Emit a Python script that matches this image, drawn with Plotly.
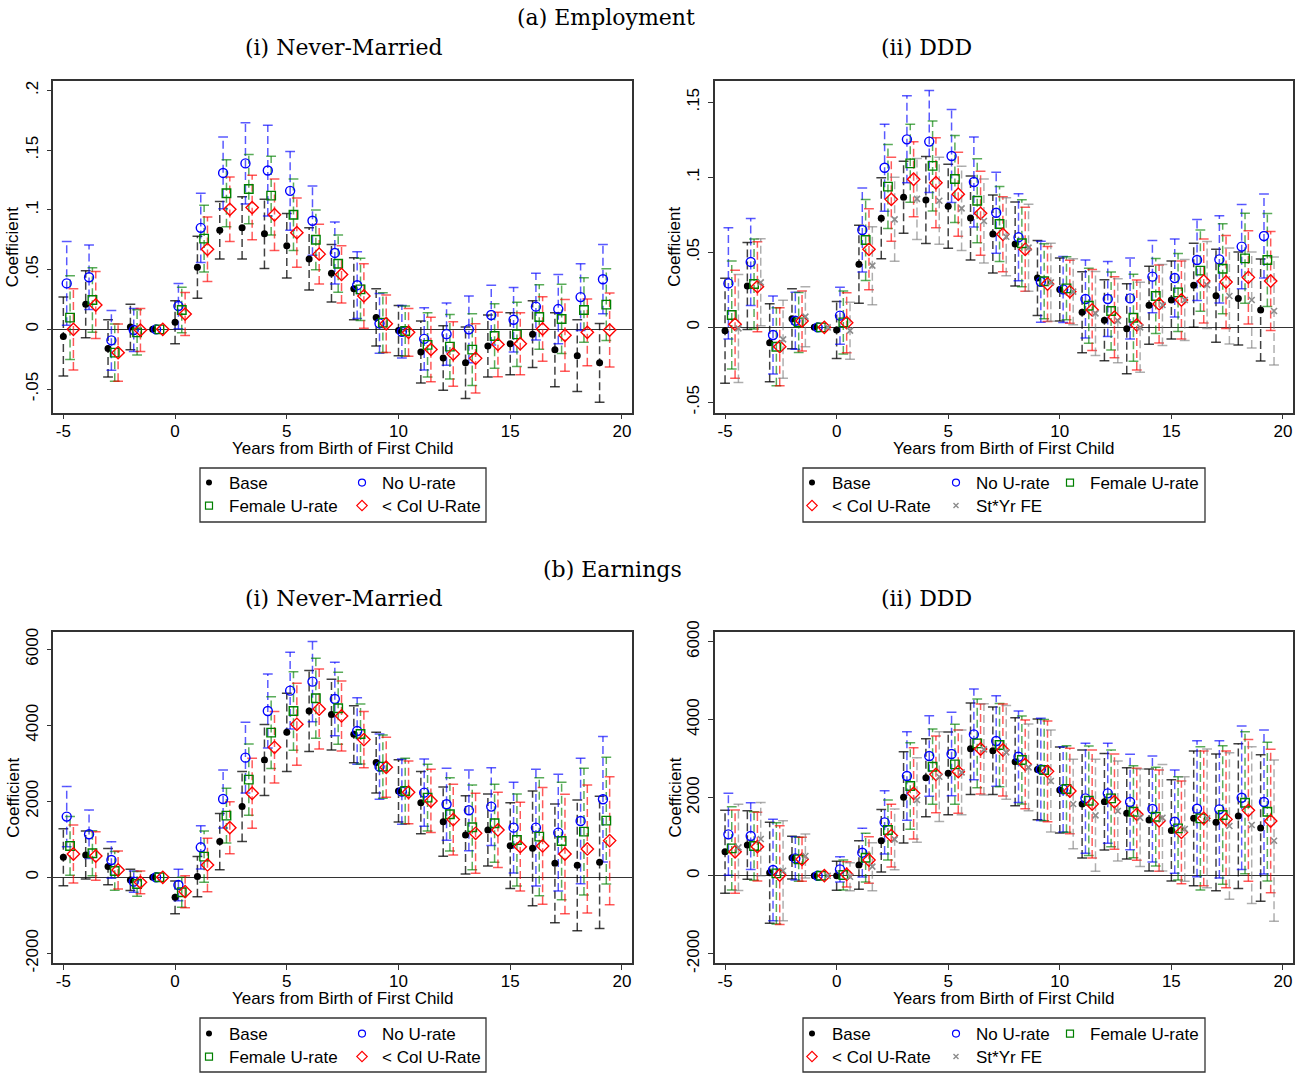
import plotly.graph_objects as go

# ---------------- data ----------------
event_time = list(range(-5, 20))

# (a) Employment, (i) Never-Married : point estimates and 95% CI half-widths
emp_nm_base = [-0.006, 0.021, -0.016, 0.002, 0, 0.006, 0.052, 0.083, 0.085, 0.080, 0.070, 0.059, 0.047,
               0.034, 0.010, -0.001, -0.019, -0.024, -0.028, -0.014, -0.012, -0.004, -0.017, -0.022, -0.028]
emp_nm_base_hw = [0.033, 0.028, 0.024, 0.019, 0, 0.018, 0.026, 0.024, 0.026, 0.029, 0.027, 0.026, 0.024,
                  0.026, 0.024, 0.021, 0.026, 0.027, 0.030, 0.026, 0.026, 0.028, 0.031, 0.030, 0.033]
emp_nm_nou = [0.0385, 0.0436, -0.0092, -0.0006, 0, 0.0195, 0.085, 0.131, 0.139, 0.133, 0.116, 0.091, 0.064,
              0.037, 0.005, -0.002, -0.008, -0.004, 0.000, 0.012, 0.008, 0.019, 0.017, 0.027, 0.042]
emp_nm_nou_hw = [0.035, 0.027, 0.025, 0.018, 0, 0.019, 0.029, 0.030, 0.034, 0.038, 0.033, 0.029, 0.026,
                 0.028, 0.025, 0.022, 0.026, 0.026, 0.028, 0.025, 0.027, 0.028, 0.029, 0.028, 0.029]
emp_nm_fem = [0.0098, 0.0246, -0.0195, -0.0025, 0, 0.0162, 0.076, 0.114, 0.1175, 0.112, 0.096, 0.075, 0.055,
              0.0335, 0.0056, -0.0014, -0.013, -0.0145, -0.017, -0.0056, -0.0042, 0.0103, 0.0087, 0.0162, 0.0207]
emp_nm_fem_hw = [0.035, 0.027, 0.024, 0.019, 0, 0.019, 0.028, 0.028, 0.029, 0.033, 0.030, 0.025, 0.024,
                 0.026, 0.025, 0.021, 0.027, 0.027, 0.030, 0.027, 0.027, 0.027, 0.029, 0.027, 0.030]
emp_nm_col = [0.000, 0.0204, -0.0195, -0.0006, 0, 0.0128, 0.067, 0.1005, 0.102, 0.096, 0.081, 0.063, 0.046,
              0.028, 0.0047, -0.0025, -0.0168, -0.0207, -0.0243, -0.0126, -0.012, 0.0003, -0.005, -0.0025, -0.0006]
emp_nm_col_hw = [0.034, 0.028, 0.024, 0.018, 0, 0.018, 0.027, 0.027, 0.027, 0.030, 0.029, 0.025, 0.024,
                 0.027, 0.024, 0.020, 0.027, 0.027, 0.029, 0.027, 0.026, 0.027, 0.030, 0.028, 0.031]

# (a) Employment, (ii) DDD
emp_ddd_base = [-0.0022, 0.0276, -0.0102, 0.0058, 0, -0.0018, 0.042, 0.0727, 0.0867, 0.0849, 0.0807, 0.0729, 0.0622,
                0.0556, 0.0329, 0.0253, 0.010, 0.0047, -0.0009, 0.0147, 0.0182, 0.028, 0.0211, 0.0193, 0.0116]
emp_ddd_base_hw = [0.035, 0.029, 0.026, 0.020, 0, 0.019, 0.026, 0.027, 0.024, 0.029, 0.028, 0.028, 0.026,
                   0.028, 0.025, 0.021, 0.027, 0.027, 0.030, 0.026, 0.026, 0.028, 0.031, 0.031, 0.034]
emp_ddd_nou = [0.0293, 0.0436, -0.0051, 0.0044, 0, 0.0078, 0.0649, 0.1064, 0.1253, 0.1238, 0.1142, 0.0969, 0.0764,
               0.060, 0.0304, 0.0253, 0.0189, 0.0189, 0.0193, 0.0338, 0.0329, 0.0449, 0.0453, 0.0538, 0.0609]
emp_ddd_nou_hw = [0.037, 0.029, 0.026, 0.019, 0, 0.019, 0.028, 0.029, 0.029, 0.034, 0.031, 0.030, 0.027,
                  0.029, 0.027, 0.022, 0.026, 0.025, 0.027, 0.024, 0.026, 0.027, 0.029, 0.028, 0.028]
emp_ddd_fem = [0.0082, 0.0289, -0.0129, 0.0033, 0, 0.0033, 0.0582, 0.0938, 0.1093, 0.1076, 0.0989, 0.0844, 0.0689,
               0.056, 0.0307, 0.026, 0.0144, 0.0109, 0.0064, 0.0209, 0.0233, 0.0378, 0.0391, 0.046, 0.0449]
emp_ddd_fem_hw = [0.036, 0.030, 0.026, 0.020, 0, 0.021, 0.027, 0.028, 0.026, 0.030, 0.029, 0.028, 0.025,
                  0.029, 0.025, 0.021, 0.025, 0.026, 0.029, 0.025, 0.026, 0.027, 0.030, 0.030, 0.031]
emp_ddd_col = [0.002, 0.0271, -0.0129, 0.0042, 0, 0.0031, 0.052, 0.0853, 0.0987, 0.0964, 0.0887, 0.076, 0.062,
               0.052, 0.0289, 0.0238, 0.0116, 0.0067, 0.0016, 0.0156, 0.0182, 0.0309, 0.0302, 0.0333, 0.0309]
emp_ddd_col_hw = [0.036, 0.030, 0.026, 0.020, 0, 0.020, 0.027, 0.028, 0.025, 0.030, 0.028, 0.028, 0.025,
                  0.028, 0.025, 0.021, 0.027, 0.027, 0.030, 0.026, 0.026, 0.028, 0.031, 0.031, 0.033]
emp_ddd_styr = [-0.0007, 0.030, -0.008, 0.0071, 0, -0.0022, 0.0411, 0.072, 0.0856, 0.0844, 0.0793, 0.0709, 0.0604,
                0.0531, 0.030, 0.0238, 0.0093, 0.0044, 0.000, 0.0149, 0.0182, 0.0282, 0.0209, 0.0182, 0.0109]
emp_ddd_styr_hw = [0.036, 0.029, 0.026, 0.020, 0, 0.019, 0.026, 0.028, 0.027, 0.029, 0.028, 0.028, 0.026,
                   0.029, 0.026, 0.022, 0.028, 0.028, 0.030, 0.027, 0.027, 0.029, 0.032, 0.032, 0.036]

# (b) Earnings, (i) Never-Married
ern_nm_base = [526, 588, 281, -70, 0, -526, 18, 939, 1860, 3088, 3816, 4377, 4281,
               3763, 3018, 2272, 1965, 1465, 1114, 1246, 833, 763, 368, 316, 395]
ern_nm_base_hw = [750, 630, 480, 280, 0, 430, 530, 737, 921, 934, 1030, 1066, 930,
                  750, 798, 820, 820, 912, 1030, 947, 1127, 1510, 1561, 1720, 1740]
ern_nm_nou = [1597, 1132, 456, -114, 0, -202, 789, 2061, 3149, 4377, 4912, 5149, 4693,
              3851, 2912, 2254, 2228, 1921, 1763, 1860, 1307, 1307, 1175, 1482, 2053]
ern_nm_nou_hw = [790, 640, 482, 280, 0, 412, 570, 763, 930, 974, 1009, 1053, 965,
                 877, 860, 860, 886, 947, 1061, 1026, 1193, 1535, 1535, 1649, 1649]
ern_nm_fem = [825, 632, 167, -175, 0, -395, 544, 1623, 2570, 3807, 4377, 4711, 4447,
              3772, 2912, 2272, 2096, 1658, 1316, 1421, 982, 1070, 956, 1202, 1491]
ern_nm_fem_hw = [772, 590, 510, 325, 0, 395, 675, 720, 939, 947, 1035, 1053, 947,
                 790, 833, 860, 877, 965, 1114, 1026, 1210, 1553, 1544, 1667, 1667]
ern_nm_col = [614, 561, 193, -132, 0, -377, 325, 1307, 2211, 3421, 4026, 4430, 4246,
              3623, 2895, 2237, 2009, 1518, 1158, 1246, 807, 825, 614, 746, 965]
ern_nm_col_hw = [763, 640, 500, 298, 0, 421, 702, 684, 921, 939, 1079, 1053, 921,
                 737, 790, 825, 833, 930, 1053, 991, 1167, 1535, 1570, 1684, 1684]

# (b) Earnings, (ii) DDD
ern_ddd_base = [615, 786, 77, 462, 0, 0, 274, 897, 2009, 2513, 2624, 3256, 3205,
                2923, 2726, 2197, 1838, 1897, 1598, 1427, 1162, 1470, 1368, 1530, 1222]
ern_ddd_base_hw = [1064, 880, 1295, 547, 0, 370, 620, 800, 1168, 1000, 1060, 1175, 1120,
                   1128, 1290, 1103, 1385, 1239, 1171, 1308, 1300, 1726, 1752, 1855, 1880]
ern_ddd_nou = [1060, 1017, 145, 444, 0, 162, 590, 1368, 2556, 3068, 3120, 3624, 3453,
               3051, 2726, 2214, 1983, 2111, 1889, 1709, 1385, 1718, 1701, 2000, 1889]
ern_ddd_nou_hw = [1051, 855, 1300, 556, 0, 325, 624, 812, 1137, 1034, 1068, 1162, 1162,
                  1171, 1308, 1094, 1410, 1282, 1222, 1359, 1325, 1744, 1761, 1838, 1846]
ern_ddd_fem = [701, 761, 60, 419, 0, 17, 462, 1171, 2299, 2795, 2855, 3393, 3350,
               2966, 2709, 2222, 1923, 1983, 1641, 1513, 1214, 1470, 1556, 1872, 1641]
ern_ddd_fem_hw = [1068, 880, 1300, 564, 0, 385, 624, 770, 1111, 966, 1026, 1137, 1068,
                  1128, 1299, 1111, 1402, 1239, 1179, 1265, 1325, 1838, 1778, 1820, 1778]
ern_ddd_col = [615, 744, 17, 419, 0, 34, 402, 1026, 2111, 2598, 2667, 3248, 3222,
               2855, 2675, 2171, 1838, 1897, 1573, 1410, 1111, 1470, 1444, 1675, 1402]
ern_ddd_col_hw = [1068, 880, 1265, 564, 0, 325, 598, 803, 1171, 983, 1068, 1154, 1180,
                  1137, 1290, 1094, 1385, 1222, 1179, 1299, 1316, 1726, 1752, 1820, 1838]
ern_ddd_styr = [726, 940, 128, 504, 0, -26, 231, 932, 1940, 2538, 2650, 3239, 3162,
                2778, 2427, 1838, 1547, 1658, 1487, 1487, 1197, 1470, 1274, 1299, 897]
ern_ddd_styr_hw = [1103, 940, 1282, 564, 0, 359, 615, 778, 1085, 1150, 1085, 1170, 1200,
                   1111, 1308, 1145, 1436, 1282, 1248, 1367, 1342, 1778, 1880, 2009, 2068]

x_tickvals = [-5, 0, 5, 10, 15, 20]
x_ticklabels = ["-5", "0", "5", "10", "15", "20"]
emp_nm_ticks = [-0.05, 0, 0.05, 0.1, 0.15, 0.2]
emp_nm_ticklabels = ["-.05", "0", ".05", ".1", ".15", ".2"]
emp_ddd_ticks = [-0.05, 0, 0.05, 0.1, 0.15]
emp_ddd_ticklabels = ["-.05", "0", ".05", ".1", ".15"]
ern_ticks = [-2000, 0, 2000, 4000, 6000]
ern_ticklabels = ["-2000", "0", "2000", "4000", "6000"]

series_names = {"base": "Base", "nou": "No U-rate", "fem": "Female U-rate",
                "col": "&lt; Col U-Rate", "styr": "St*Yr FE"}

# ---------------- styles ----------------
W, H = 1306, 1073
SANS = "Liberation Sans, Arial, sans-serif"
SERIF = "DejaVu Serif, serif"
FS = 17

STYLE = {
    "base": dict(color="#000000", symbol="circle", size=7, lsize=6, lw=0, offset=0.0, bar="rgba(0,0,0,0.75)"),
    "nou": dict(color="#0000ff", symbol="circle-open", size=9, lsize=7, lw=1.4, offset=0.15, bar="rgba(0,0,255,0.65)"),
    "fem": dict(color="#008000", symbol="square-open", size=8.5, lsize=7, lw=1.4, offset=0.30, bar="rgba(0,128,0,0.65)"),
    "col": dict(color="#ff0000", symbol="diamond-open", size=9.5, lsize=8, lw=1.4, offset=0.45, bar="rgba(255,0,0,0.65)"),
    "styr": dict(color="#8c8c8c", symbol="x-thin-open", size=6, lsize=5, lw=1.6, offset=0.60, bar="rgba(120,120,120,0.6)"),
}

panels = [
    dict(ax="", series=[("base", emp_nm_base, emp_nm_base_hw), ("nou", emp_nm_nou, emp_nm_nou_hw),
                        ("fem", emp_nm_fem, emp_nm_fem_hw), ("col", emp_nm_col, emp_nm_col_hw)],
         xdom=(53.3, 632), ydom=(81, 412.7), yrange=(-0.0698, 0.208),
         yt=emp_nm_ticks, ytl=emp_nm_ticklabels),
    dict(ax="2", series=[("base", emp_ddd_base, emp_ddd_base_hw), ("nou", emp_ddd_nou, emp_ddd_nou_hw),
                         ("fem", emp_ddd_fem, emp_ddd_fem_hw), ("col", emp_ddd_col, emp_ddd_col_hw),
                         ("styr", emp_ddd_styr, emp_ddd_styr_hw)],
         xdom=(715, 1293), ydom=(81, 412.7), yrange=(-0.0569, 0.1642),
         yt=emp_ddd_ticks, ytl=emp_ddd_ticklabels),
    dict(ax="3", series=[("base", ern_nm_base, ern_nm_base_hw), ("nou", ern_nm_nou, ern_nm_nou_hw),
                         ("fem", ern_nm_fem, ern_nm_fem_hw), ("col", ern_nm_col, ern_nm_col_hw)],
         xdom=(53.3, 632), ydom=(631.7, 963.3), yrange=(-2263, 6463),
         yt=ern_ticks, ytl=ern_ticklabels),
    dict(ax="4", series=[("base", ern_ddd_base, ern_ddd_base_hw), ("nou", ern_ddd_nou, ern_ddd_nou_hw),
                         ("fem", ern_ddd_fem, ern_ddd_fem_hw), ("col", ern_ddd_col, ern_ddd_col_hw),
                         ("styr", ern_ddd_styr, ern_ddd_styr_hw)],
         xdom=(715, 1293), ydom=(631.7, 963.3), yrange=(-2246, 6256),
         yt=ern_ticks, ytl=ern_ticklabels),
]

fig = go.Figure()

for p in panels:
    xa, ya = "x" + p["ax"], "y" + p["ax"]
    # confidence intervals (dashed rcap)
    for key, vals, hws in p["series"]:
        st = STYLE[key]
        bx, by, cx, cy = [], [], [], []
        for t, v, h in zip(event_time, vals, hws):
            if h <= 0:
                continue
            xt = t + st["offset"]
            bx += [xt, xt, None]
            by += [v - h, v + h, None]
            cx += [xt, xt]
            cy += [v - h, v + h]
        fig.add_trace(go.Scatter(x=bx, y=by, mode="lines", xaxis=xa, yaxis=ya, showlegend=False,
                                 hoverinfo="skip",
                                 line=dict(color=st["bar"], width=1.5, dash="8px,4px")))
        fig.add_trace(go.Scatter(x=cx, y=cy, mode="markers", xaxis=xa, yaxis=ya, showlegend=False,
                                 hoverinfo="skip",
                                 marker=dict(symbol="line-ew", size=7, color=st["bar"],
                                             line=dict(color=st["bar"], width=1.5))))
    # point estimates
    for key, vals, hws in p["series"]:
        st = STYLE[key]
        fig.add_trace(go.Scatter(x=[t + st["offset"] for t in event_time], y=vals, mode="markers",
                                 xaxis=xa, yaxis=ya, showlegend=False, name=series_names[key],
                                 marker=dict(symbol=st["symbol"], size=st["size"], color=st["color"],
                                             line=dict(color=st["color"], width=st["lw"]))))

# ---------------- legends (one per row / column group) ----------------
legend_groups = [
    # (legend id, panel axis, keys, x_px of first symbol, y_px, column spacing or None)
    ("legend", "", ["base", "nou"], 209, 483, 153),
    ("legend2", "", ["fem", "col"], 209, 506, 153),
    ("legend3", "2", ["base", "nou"], 812, 483, 144),
    ("legend4", "2", ["fem"], 1070, 483, None),
    ("legend5", "2", ["col", "styr"], 812, 506, 144),
    ("legend6", "3", ["base", "nou"], 209, 1034, 153),
    ("legend7", "3", ["fem", "col"], 209, 1057, 153),
    ("legend8", "4", ["base", "nou"], 812, 1034, 144),
    ("legend9", "4", ["fem"], 1070, 1034, None),
    ("legend10", "4", ["col", "styr"], 812, 1057, 144),
]
layout_legends = {}
for lid, ax, keys, xpx, ypx, ew in legend_groups:
    for key in keys:
        st = STYLE[key]
        fig.add_trace(go.Scatter(x=[None], y=[None], mode="markers", xaxis="x" + ax, yaxis="y" + ax,
                                 name=series_names[key], legend=lid, showlegend=True,
                                 marker=dict(symbol=st["symbol"], size=st["lsize"], color=st["color"],
                                             line=dict(color=st["color"], width=max(st["lw"] - 0.2, 0)))))
    lg = dict(orientation="h", x=(xpx - 20) / W, y=1 - ypx / H, xanchor="left",
              yanchor="middle", bgcolor="rgba(0,0,0,0)", borderwidth=0, itemwidth=30,
              font=dict(family=SANS, size=FS, color="#000000"), tracegroupgap=0,
              itemclick=False, itemdoubleclick=False)
    if ew is not None:
        lg.update(entrywidth=ew - 45, entrywidthmode="pixels")
    layout_legends[lid] = lg

# ---------------- axes ----------------
axis_common = dict(showgrid=False, ticks="outside", ticklen=5, tickwidth=1.3, tickcolor="#333333",
                   showline=True, linecolor="#333333", linewidth=1.5, mirror=True,
                   tickfont=dict(family=SANS, size=FS, color="#000000"))
layout_axes = {}
for p in panels:
    a = p["ax"]
    layout_axes["xaxis" + a] = dict(axis_common, domain=[p["xdom"][0] / W, p["xdom"][1] / W],
                                    range=[-5.45, 20.45], tickvals=x_tickvals, ticktext=x_ticklabels,
                                    zeroline=False, anchor="y" + a, ticklabelstandoff=-3)
    layout_axes["yaxis" + a] = dict(axis_common, domain=[1 - p["ydom"][1] / H, 1 - p["ydom"][0] / H],
                                    range=list(p["yrange"]), tickvals=p["yt"], ticktext=p["ytl"],
                                    tickangle=-90, zeroline=True, zerolinecolor="#333333", zerolinewidth=1.3,
                                    anchor="x" + a, ticklabelstandoff=2)

# ---------------- titles, axis titles and legend boxes ----------------
annotations = []
title_specs = [
    ("(a) Employment", 606, 18),
    ("(i) Never-Married", 344, 47),
    ("(ii) DDD", 926, 47),
    ("(b) Earnings", 612, 569),
    ("(i) Never-Married", 344, 598),
    ("(ii) DDD", 926, 598),
]
for txt, xpx, ypx in title_specs:
    annotations.append(dict(text=txt, x=xpx / W, y=1 - ypx / H, xref="paper", yref="paper",
                            xanchor="center", yanchor="middle", showarrow=False,
                            font=dict(family=SERIF, size=22, color="#000000")))
for p in panels:
    xc = (p["xdom"][0] + p["xdom"][1]) / 2
    yc = (p["ydom"][0] + p["ydom"][1]) / 2
    annotations.append(dict(text="Years from Birth of First Child", x=xc / W, y=1 - (p["ydom"][1] + 35.5) / H,
                            xref="paper", yref="paper", xanchor="center", yanchor="middle",
                            showarrow=False, font=dict(family=SANS, size=FS, color="#000000")))
    annotations.append(dict(text="Coefficient", x=(p["xdom"][0] - 40) / W, y=1 - yc / H, textangle=-90,
                            xref="paper", yref="paper", xanchor="center", yanchor="middle",
                            showarrow=False, font=dict(family=SANS, size=FS, color="#000000")))

shapes = []
for x0, x1, y0, y1 in [(200, 486, 468, 522), (803, 1205, 468, 522),
                       (200, 486, 1018, 1072), (803, 1205, 1018, 1072)]:
    shapes.append(dict(type="rect", xref="paper", yref="paper", x0=x0 / W, x1=x1 / W,
                       y0=1 - y1 / H, y1=1 - y0 / H, line=dict(color="#333333", width=1.3),
                       fillcolor="rgba(0,0,0,0)"))

fig.update_layout(width=W, height=H, margin=dict(l=0, r=0, t=0, b=0, autoexpand=False),
                  paper_bgcolor="white", plot_bgcolor="white",
                  annotations=annotations, shapes=shapes, **layout_axes, **layout_legends)

fig.write_html("out.html")
